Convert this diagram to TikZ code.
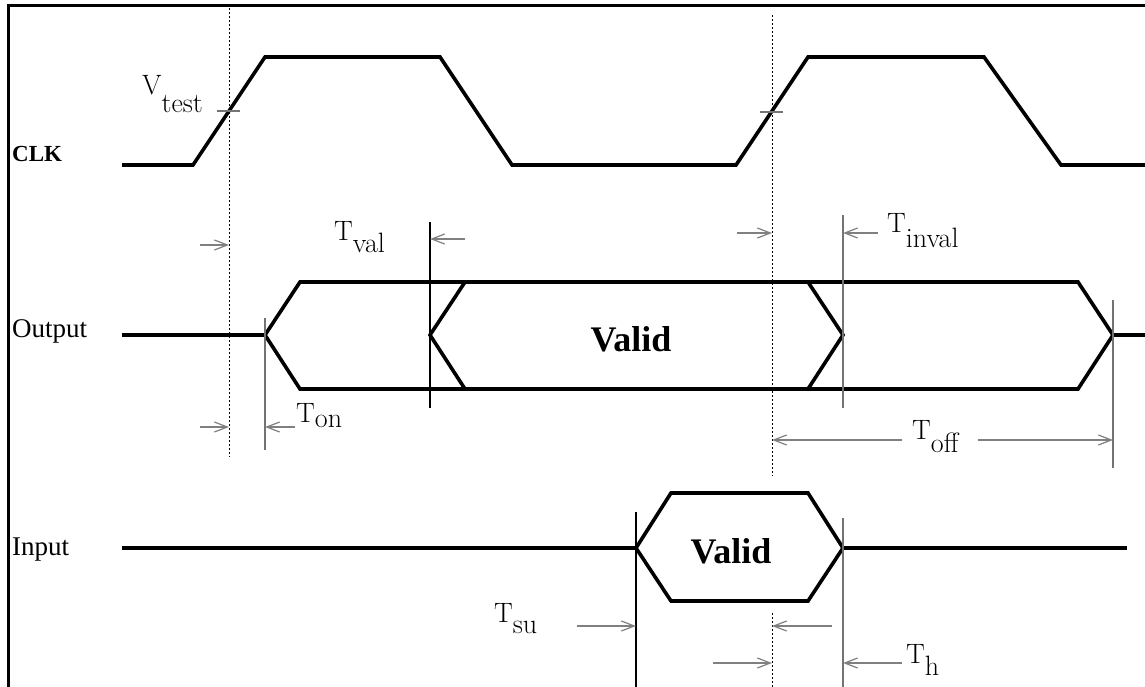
\documentclass[tikz,border=0pt]{standalone}
\usepackage{fontspec}
\newfontfamily\libserif{Liberation Serif}
\usetikzlibrary{arrows.meta}
\tikzset{
  wave/.style={line width=3.6pt, line join=miter, line cap=butt},
  thinblack/.style={line width=1.2pt, draw=black},
  thingray/.style={line width=1.3pt, draw=black!55},
  dotline/.style={line width=1pt, dash pattern=on 2pt off 2pt},
  dim/.style={line width=1.2pt, draw=black!50, -{Straight Barb[length=13pt,width=10pt,line width=1.2pt]}},
  lbl/.style={anchor=base west, inner sep=0pt, font=\fontsize{28}{33}\selectfont},
  sig/.style={anchor=base west, inner sep=0pt, font=\libserif\fontsize{27}{32}\selectfont},
  validtxt/.style={anchor=base, inner sep=0pt, font=\libserif\bfseries\fontsize{36}{40}\selectfont},
}
\begin{document}
\begin{tikzpicture}[x=1pt,y=-1pt]
\useasboundingbox (0,0) rectangle (1145,687);
% frame (left and top)
\draw[line width=3.2pt] (8.5,687) -- (8.5,5.5) -- (1145,5.5);

% dotted reference lines
\draw[dotline] (229,8) -- (229,457);
\draw[dotline] (772,15) -- (772,476);
\draw[dotline] (772,613) -- (772,687);

% signal names
\node[sig, font=\libserif\bfseries\fontsize{23}{28}\selectfont] (clk) at (12,162) {CLK};
\node[sig] (out) at (12,337) {Output};
\node[sig] (inp) at (12,555) {Input};

% CLK waveform
\draw[wave] (122,165) -- (193,165) -- (265,57) -- (440,57) -- (512,165) -- (736,165)
  -- (808,57) -- (984,57) -- (1061,165) -- (1145,165);
% V_test ticks
\draw[thingray] (217,111) -- (240,111);
\draw[thingray] (760,112) -- (783,112);
\node[lbl] (vtest) at (142,95) {V\raisebox{-18pt}{test}};

% Output waveform
\draw[wave] (122,335) -- (265,335);
\draw[wave] (265,335) -- (300,282) -- (1078,282) -- (1113,335) -- (1078,389) -- (300,389) -- cycle;
\draw[wave] (465,282) -- (430,335) -- (465,389);
\draw[wave] (808,282) -- (843,335) -- (808,389);
\draw[wave] (1113,335) -- (1145,335);
\node[validtxt] (valid1) at (631,351) {Valid};

% Output reference verticals
\draw[thingray] (265,318) -- (265,450);
\draw[thinblack] (430,222) -- (430,408);
\draw[thingray] (843,215) -- (843,408);
\draw[thingray] (1113,300) -- (1113,468);

% T_val
\draw[dim] (200,245) -- (229,245);
\draw[dim] (465,239) -- (430,239);
\node[lbl] (tval) at (334,240) {T\raisebox{-13pt}{val}};
% T_inval
\draw[dim] (737,233) -- (772,233);
\draw[dim] (878,233) -- (843,233);
\node[lbl] (tinval) at (887,233) {T\raisebox{-14pt}{inval}};
% T_on
\draw[dim] (200,427) -- (229,427);
\draw[dim] (295,427) -- (265,427);
\node[lbl] (ton) at (296,422) {T\raisebox{-5pt}{on}};
% T_off
\draw[dim] (902,440) -- (772,440);
\draw[dim] (978,440) -- (1113,440);
\node[lbl] (toff) at (912,439) {T\raisebox{-13pt}{off}};

% Input waveform
\draw[wave] (122,548) -- (636,548);
\draw[wave, fill=white] (636,548) -- (671,493) -- (808,493) -- (843,548) -- (808,601) -- (671,601) -- cycle;
\draw[wave] (843,548) -- (1127,548);
\node[validtxt] (valid2) at (731,563) {Valid};

% Input reference verticals
\draw[thinblack] (636,512) -- (636,687);
\draw[thingray] (843,518) -- (843,687);

% T_su
\draw[dim] (577,626) -- (636,626);
\draw[dim] (832,626) -- (772,626);
\node[lbl] (tsu) at (494,622) {T\raisebox{-11pt}{su}};
% T_h
\draw[dim] (713,663) -- (772,663);
\draw[dim] (902,663) -- (843,663);
\node[lbl] (th) at (906,663) {T\raisebox{-12pt}{h}};
\end{tikzpicture}
\end{document}
